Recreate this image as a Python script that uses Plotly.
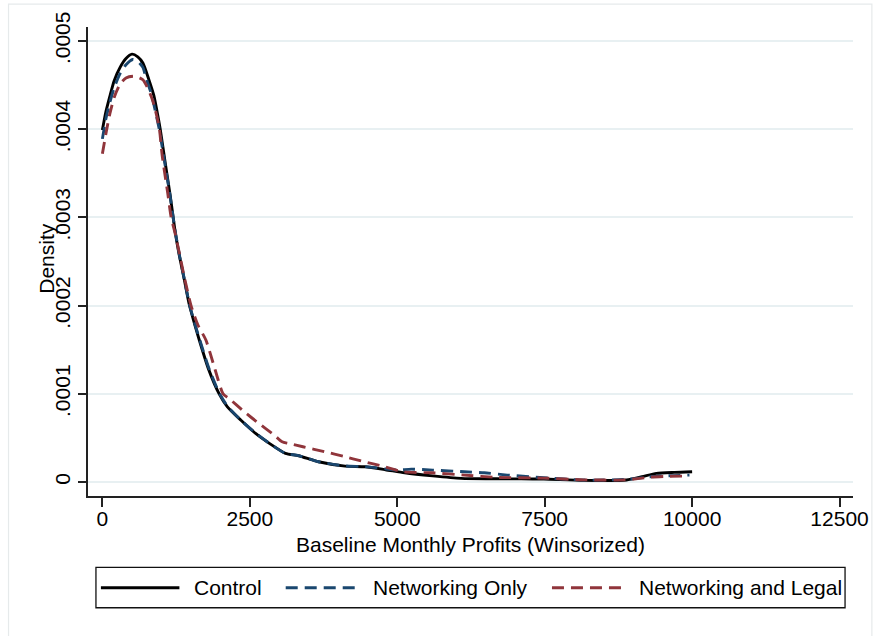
import plotly.graph_objects as go

# ---------------- data ----------------
series_names = ["Control", "Networking Only", "Networking and Legal"]

control_x = [0, 60, 125, 200, 300, 400, 502, 600, 687, 784, 873, 930, 981, 1065, 1149, 1200, 1238, 1310,
             1390, 1474, 1560, 1643, 1800, 1980, 2120, 2350, 2598, 2850, 3104, 3328, 3665, 4115, 4452,
             4800, 5126, 5600, 6080, 6698, 7100, 7485, 8159, 8888, 9150, 9394, 9700, 10000]
control_y = [3.99, 4.20, 4.37, 4.55, 4.70, 4.80, 4.85, 4.82, 4.75, 4.57, 4.38, 4.19, 4.00, 3.62, 3.25,
             3.00, 2.82, 2.55, 2.29, 2.01, 1.80, 1.61, 1.28, 1.00, 0.852, 0.70, 0.551, 0.43, 0.325,
             0.298, 0.23, 0.181, 0.173, 0.14, 0.105, 0.07, 0.042, 0.037, 0.036, 0.034, 0.019, 0.023,
             0.06, 0.098, 0.11, 0.117]

netonly_x = [0, 60, 125, 200, 300, 400, 514, 600, 687, 745, 830, 900, 964, 1050, 1149, 1200, 1238, 1310,
             1390, 1474, 1560, 1643, 1800, 1980, 2120, 2350, 2598, 2850, 3104, 3328, 3665, 4115, 4452,
             4800, 5000, 5237, 5600, 6137, 6474, 6866, 7485, 8159, 8888, 9281, 9600, 9955]
netonly_y = [3.89, 4.12, 4.30, 4.47, 4.63, 4.73, 4.79, 4.77, 4.70, 4.57, 4.40, 4.20, 4.00, 3.65, 3.24,
             3.00, 2.83, 2.56, 2.30, 2.02, 1.81, 1.63, 1.30, 1.01, 0.86, 0.70, 0.555, 0.43, 0.325,
             0.30, 0.23, 0.183, 0.175, 0.15, 0.135, 0.147, 0.135, 0.117, 0.105, 0.079, 0.049, 0.023,
             0.03, 0.06, 0.072, 0.079]

netlegal_x = [0, 60, 125, 200, 300, 400, 520, 600, 687, 772, 850, 900, 965, 1014, 1109, 1166, 1233, 1310,
              1390, 1503, 1620, 1755, 1900, 2047, 2148, 2400, 2654, 2900, 3047, 3159, 3400, 3777, 4100,
              4395, 4789, 5097, 5574, 6137, 6698, 7485, 8159, 8888, 9281, 9600, 9900]
netlegal_y = [3.72, 3.95, 4.17, 4.36, 4.51, 4.58, 4.60, 4.59, 4.56, 4.46, 4.33, 4.21, 4.01, 3.70, 3.27,
              3.00, 2.82, 2.58, 2.32, 2.00, 1.78, 1.61, 1.30, 1.00, 0.947, 0.80, 0.664, 0.54, 0.456,
              0.438, 0.40, 0.343, 0.29, 0.238, 0.173, 0.117, 0.105, 0.079, 0.053, 0.045, 0.025, 0.025,
              0.055, 0.065, 0.068]

x_ticks = [0, 2500, 5000, 7500, 10000, 12500]
x_tick_labels = ["0", "2500", "5000", "7500", "10000", "12500"]
y_ticks = [0, 0.0001, 0.0002, 0.0003, 0.0004, 0.0005]
y_tick_labels = ["0", ".0001", ".0002", ".0003", ".0004", ".0005"]

x_title = "Baseline Monthly Profits (Winsorized)"
y_title = "Density"

# ---------------- styling ----------------
W, H = 881, 636
L, R, T, B = 88, 858, 26, 496
FONT = "Liberation Sans, Arial, Helvetica, sans-serif"
FS = 21
colors = ["#000000", "#1a476f", "#90353b"]
dashes = ["solid", "12px,7px", "12px,7px"]


def px_x(p):
    return (p - L) / (R - L)


def px_y(p):
    return (B - p) / (B - T)


scale = 1e-4
data = [(control_x, control_y), (netonly_x, netonly_y), (netlegal_x, netlegal_y)]

fig = go.Figure()
for (xs, ys), name, c, d in zip(data, series_names, colors, dashes):
    fig.add_trace(go.Scatter(
        x=xs, y=[v * scale for v in ys], name=name, mode="lines",
        line=dict(color=c, width=2.9, dash=d, shape="spline", smoothing=0.6),
        showlegend=False,
    ))

fig.update_layout(
    width=W, height=H,
    margin=dict(l=L, r=W - R, t=T, b=H - B, pad=0),
    paper_bgcolor="white", plot_bgcolor="white",
    font=dict(family=FONT, size=FS, color="black"),
    showlegend=False,
)

fig.update_xaxes(
    range=[-244, 12728], tickvals=x_ticks, ticktext=x_tick_labels,
    showline=True, linecolor="#222222", linewidth=1.5,
    ticks="outside", ticklen=9, tickwidth=1.5, tickcolor="#222222",
    ticklabelstandoff=-6,
    showgrid=False, zeroline=False,
    tickfont=dict(family=FONT, size=FS, color="black"),
)
fig.update_yaxes(
    range=[-0.0000158, 0.0005158], tickvals=y_ticks, ticktext=y_tick_labels,
    tickangle=-90,
    showline=True, linecolor="#222222", linewidth=1.5,
    ticks="outside", ticklen=8, tickwidth=1.5, tickcolor="#222222",
    showgrid=True, gridcolor="#e8f0f2", gridwidth=1.5, zeroline=False,
    tickfont=dict(family=FONT, size=FS, color="black"),
)

shapes = []
annotations = []

# outer graph-region frame
shapes.append(dict(type="rect", xref="paper", yref="paper",
                   x0=px_x(8), x1=px_x(877), y0=px_y(3), y1=px_y(660),
                   line=dict(color="#e6eaeb", width=1.2), fillcolor="rgba(0,0,0,0)", layer="below"))

# axis titles
annotations.append(dict(text=x_title, xref="paper", yref="paper", x=px_x(473), y=px_y(545),
                        xanchor="center", yanchor="middle", showarrow=False,
                        font=dict(family=FONT, size=FS, color="black")))
annotations.append(dict(text=y_title, xref="paper", yref="paper", x=px_x(46), y=px_y(258),
                        xanchor="center", yanchor="middle", textangle=-90, showarrow=False,
                        font=dict(family=FONT, size=FS, color="black")))

# legend box
shapes.append(dict(type="rect", xref="paper", yref="paper",
                   x0=px_x(96), x1=px_x(850), y0=px_y(567.5), y1=px_y(608),
                   line=dict(color="#111111", width=1.3), fillcolor="white"))
leg_y = 588
leg_lines = [(101, 180, 193), (287, 360, 373), (555, 629, 641)]
for (x0, x1, tx), name, c, d in zip(leg_lines, series_names, colors, dashes):
    shapes.append(dict(type="line", xref="paper", yref="paper",
                       x0=px_x(x0), x1=px_x(x1), y0=px_y(leg_y), y1=px_y(leg_y),
                       line=dict(color=c, width=3, dash=d)))
    annotations.append(dict(text=name, xref="paper", yref="paper", x=px_x(tx), y=px_y(leg_y),
                            xanchor="left", yanchor="middle", showarrow=False,
                            font=dict(family=FONT, size=FS, color="black")))

fig.update_layout(shapes=shapes, annotations=annotations)

fig.write_html("out.html",
               config={"displayModeBar": False},
               post_script="document.body.style.margin='0';document.body.style.overflow='hidden';")
